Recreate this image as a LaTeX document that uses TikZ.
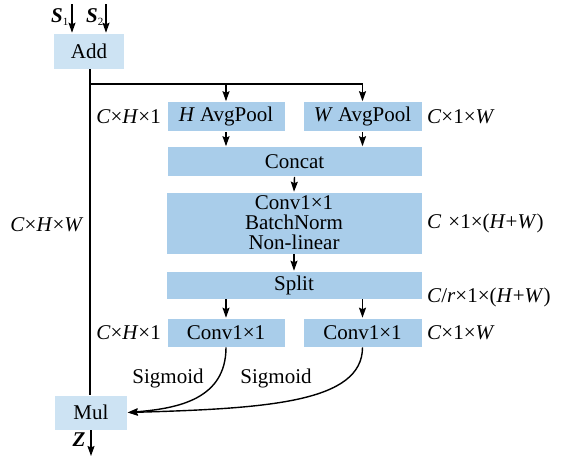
\documentclass[tikz,border=0pt]{standalone}
\usepackage{fontspec}
\setmainfont{Liberation Serif}
\usetikzlibrary{arrows.meta}
\definecolor{boxblue}{HTML}{A9CDEA}
\definecolor{lightblue}{HTML}{CDE3F3}
\begin{document}
\begin{tikzpicture}[x=1pt,y=-1pt,
  every node/.style={font=\fontsize{21}{20}\selectfont, inner sep=0pt},
  blk/.style={fill=boxblue, draw=white, line width=0.6pt, align=center},
  lblk/.style={fill=lightblue, draw=white, line width=0.6pt, align=center},
  ln/.style={line width=1.4pt},
  arr/.style={line width=1.4pt, -{Stealth[length=10pt,width=7pt,inset=1.5pt]}},
  lab/.style={}]
\useasboundingbox (0,0) rectangle (562,456);
% boxes
\node[lblk, minimum width=71pt, minimum height=36pt] (add) at (89,51) {Add};
\node[blk, minimum width=118pt, minimum height=30pt] (hpool) at (226,116.5) {\textit{H} AvgPool};
\node[blk, minimum width=119pt, minimum height=30pt] (wpool) at (362.5,116.5) {\textit{W} AvgPool};
\node[blk, minimum width=255pt, minimum height=30pt] (concat) at (294.5,161.5) {Concat};
\node[blk, minimum width=256pt, minimum height=62pt] (conv) at (294,223) {Conv1×1\\BatchNorm\\Non-linear};
\node[blk, minimum width=256pt, minimum height=28pt] (split) at (294,285) {Split};
\node[blk, minimum width=118pt, minimum height=29pt] (c1) at (226,332.5) {Conv1×1};
\node[blk, minimum width=119pt, minimum height=29pt] (c2) at (362.5,332.5) {Conv1×1};
\node[lblk, minimum width=73pt, minimum height=35pt] (mul) at (91,412.5) {Mul};
% inputs
\coordinate (s1) at (72,4);
\coordinate (s2) at (106,4);
\node (s1l) at (60,17) {\textbf{\textit{S}}\textsubscript{\fontsize{11}{11}\selectfont 1}};
\node (s2l) at (95,17) {\textbf{\textit{S}}\textsubscript{\fontsize{11}{11}\selectfont 2}};
\draw[arr] (s1) -- (s1 |- add.north);
\draw[arr] (s2) -- (s2 |- add.north);
% main trunk
\coordinate (br) at (90,84);
\coordinate (trunkbot) at (90,395);
\draw[ln] (br |- add.south) -- (trunkbot);
\draw[arr] (br) -| (wpool.north);
\draw[arr] (hpool.north |- br) -- (hpool.north);
\draw[arr] (hpool.south) -- (hpool.south |- concat.north);
\draw[arr] (wpool.south) -- (wpool.south |- concat.north);
\draw[arr] (concat.south) -- (conv.north);
\draw[arr] (conv.south) -- (split.north);
\draw[arr] (c1.north |- split.south) -- (c1.north);
\draw[arr] (c2.north |- split.south) -- (c2.north);
% sigmoid curves
\draw[arr] (c1.south) .. controls +(0,52) and +(50,-4) .. (mul.east);
\draw[arr] (c2.south) .. controls +(0,55) and +(140,-4) .. (mul.east);
\node (sg1) at (168,378) {Sigmoid};
\node (sg2) at (276,378) {Sigmoid};
% output
\coordinate (zend) at (91,456);
\draw[arr] (mul.south) -- (zend);
\node (zl) at (79,440) {\textbf{\textit{Z}}};
% dimension labels
\node[anchor=east] (d1) at (161,116.5) {\textit{C}×\textit{H}×1};
\node[anchor=west] (d2) at (427,116.5) {\textit{C}×1×\textit{W}};
\node (d3) at (47,225) {\textit{C}×\textit{H}×\textit{W}};
\node[anchor=west] (d4) at (427,223) {\textit{C}\,\,×1×(\textit{H}+\textit{W})};
\node[anchor=west] (d5) at (427,297) {\textit{C}/\textit{r}×1×(\textit{H}+\textit{W})};
\node[anchor=east] (d6) at (161,332.5) {\textit{C}×\textit{H}×1};
\node[anchor=west] (d7) at (427,332.5) {\textit{C}×1×\textit{W}};
\end{tikzpicture}
\end{document}
